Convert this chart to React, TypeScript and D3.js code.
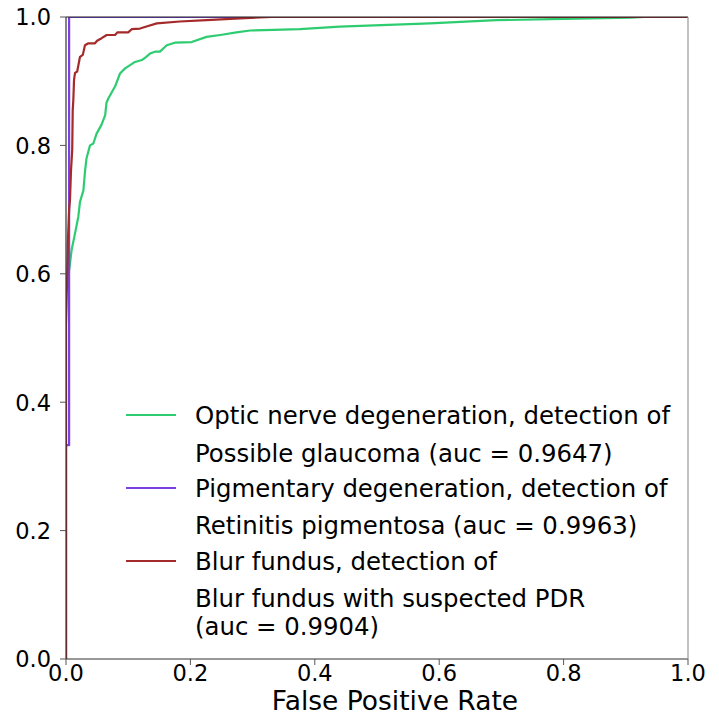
import React from "react";
import * as d3 from "d3";

const W = 719;
const H = 717;

const greenFpr = [0, 0, 0.004, 0.0054, 0.009, 0.0145, 0.0198, 0.0225, 0.028, 0.0305, 0.033, 0.0386, 0.044, 0.049, 0.057, 0.063, 0.065, 0.068, 0.079, 0.0868, 0.095, 0.103, 0.111, 0.122, 0.129, 0.135, 0.143, 0.151, 0.162, 0.175, 0.202, 0.226, 0.248, 0.274, 0.296, 0.333, 0.376, 0.408, 0.44, 0.585, 0.692, 0.8, 0.907, 0.93, 1.0];
const greenTpr = [0, 0.57, 0.6, 0.608, 0.637, 0.663, 0.689, 0.712, 0.73, 0.759, 0.78, 0.8, 0.803, 0.818, 0.832, 0.847, 0.866, 0.873, 0.892, 0.912, 0.92, 0.925, 0.93, 0.933, 0.938, 0.943, 0.946, 0.946, 0.956, 0.96, 0.961, 0.969, 0.972, 0.976, 0.979, 0.98, 0.981, 0.983, 0.985, 0.99, 0.995, 0.997, 0.999, 1.0, 1.0];

const purpleFpr = [0, 0, 0.005, 0.005, 1.0];
const purpleTpr = [0, 0.333, 0.333, 1.0, 1.0];

const redFpr = [0, 0, 0.002, 0.003, 0.005, 0.0064, 0.008, 0.01, 0.0108, 0.0118, 0.0129, 0.0145, 0.018, 0.0225, 0.027, 0.0305, 0.036, 0.0466, 0.05, 0.0573, 0.0654, 0.0788, 0.0825, 0.1, 0.1056, 0.119, 0.132, 0.146, 0.183, 0.226, 0.28, 0.33, 1.0];
const redTpr = [0, 0.52, 0.6, 0.65, 0.7, 0.715, 0.76, 0.793, 0.855, 0.871, 0.902, 0.913, 0.915, 0.938, 0.941, 0.956, 0.959, 0.959, 0.963, 0.967, 0.972, 0.972, 0.976, 0.976, 0.981, 0.982, 0.986, 0.99, 0.993, 0.995, 0.998, 1.0, 1.0];

const tickValues = [0, 0.2, 0.4, 0.6, 0.8, 1.0];
const tickLabels = ["0.0", "0.2", "0.4", "0.6", "0.8", "1.0"];

const seriesColors = ["#2ecc71", "#7b3fe4", "#a52a2a"];
const legendLines = [
  ["Optic nerve degeneration, detection of", "Possible glaucoma (auc = 0.9647)"],
  ["Pigmentary degeneration, detection of", "Retinitis pigmentosa (auc = 0.9963)"],
  ["Blur fundus, detection of", "Blur fundus with suspected PDR", "(auc = 0.9904)"],
];
const xLabel = "False Positive Rate";

const FONT = "DejaVu Sans, sans-serif";

export default function App() {
  const left = 66, right = 688, top = 17, bottom = 659;
  const x = d3.scaleLinear().domain([0, 1]).range([left, right]);
  const y = d3.scaleLinear().domain([0, 1]).range([bottom, top]);
  const line = d3
    .line<[number, number]>()
    .x((d) => x(d[0]))
    .y((d) => y(d[1]));

  const series = [
    { fpr: greenFpr, tpr: greenTpr, color: seriesColors[0] },
    { fpr: purpleFpr, tpr: purpleTpr, color: seriesColors[1] },
    { fpr: redFpr, tpr: redTpr, color: seriesColors[2] },
  ];

  const rowBaselines = [[424, 462], [497, 534], [570, 607, 635]];

  return (
    <svg
      width={W}
      height={H}
      style={{ position: "absolute", left: 0, top: 0, background: "#fff" }}
      fontFamily={FONT}
    >
      <defs>
        <clipPath id="plotclip">
          <rect x={left} y={top} width={right - left} height={bottom - top} />
        </clipPath>
      </defs>
      <rect x={0} y={0} width={W} height={H} fill="#fff" />
      <g clipPath="url(#plotclip)">
        {series.map((s, i) => (
          <path
            key={i}
            d={line(s.fpr.map((f, j) => [f, s.tpr[j]] as [number, number])) || ""}
            fill="none"
            stroke={s.color}
            strokeWidth={2.2}
            strokeLinejoin="round"
          />
        ))}
      </g>
      <line x1={left} x2={right} y1={top} y2={top} stroke="#222" strokeWidth={1.2} />
      <line x1={left} x2={right} y1={bottom} y2={bottom} stroke="#333" strokeWidth={1.2} />
      <line x1={left} x2={left} y1={top} y2={bottom} stroke="#333" strokeWidth={1.2} />
      <line x1={right} x2={right} y1={top} y2={bottom} stroke="#999" strokeWidth={1.2} />
      {tickValues.map((v, i) => (
        <g key={"x" + i}>
          <line x1={x(v)} x2={x(v)} y1={bottom} y2={bottom + 6} stroke="#555" strokeWidth={1} />
          <text x={x(v)} y={681} fontSize={22.5} textAnchor="middle" fill="#000">
            {tickLabels[i]}
          </text>
        </g>
      ))}
      {tickValues.map((v, i) => (
        <g key={"y" + i}>
          <line x1={left - 6} x2={left} y1={y(v)} y2={y(v)} stroke="#555" strokeWidth={1} />
          <text x={51} y={y(v) + 8.3} fontSize={22.5} textAnchor="end" fill="#000">
            {tickLabels[i]}
          </text>
        </g>
      ))}
      <text x={395} y={710} fontSize={26.5} textAnchor="middle" fill="#000">
        {xLabel}
      </text>
      {legendLines.map((rows, i) => (
        <g key={"lg" + i}>
          <line
            x1={126}
            x2={176}
            y1={rowBaselines[i][0] - 9}
            y2={rowBaselines[i][0] - 9}
            stroke={seriesColors[i]}
            strokeWidth={2.2}
          />
          {rows.map((t, j) => (
            <text key={j} x={195} y={rowBaselines[i][j]} fontSize={24.4} fill="#000">
              {t}
            </text>
          ))}
        </g>
      ))}
    </svg>
  );
}
